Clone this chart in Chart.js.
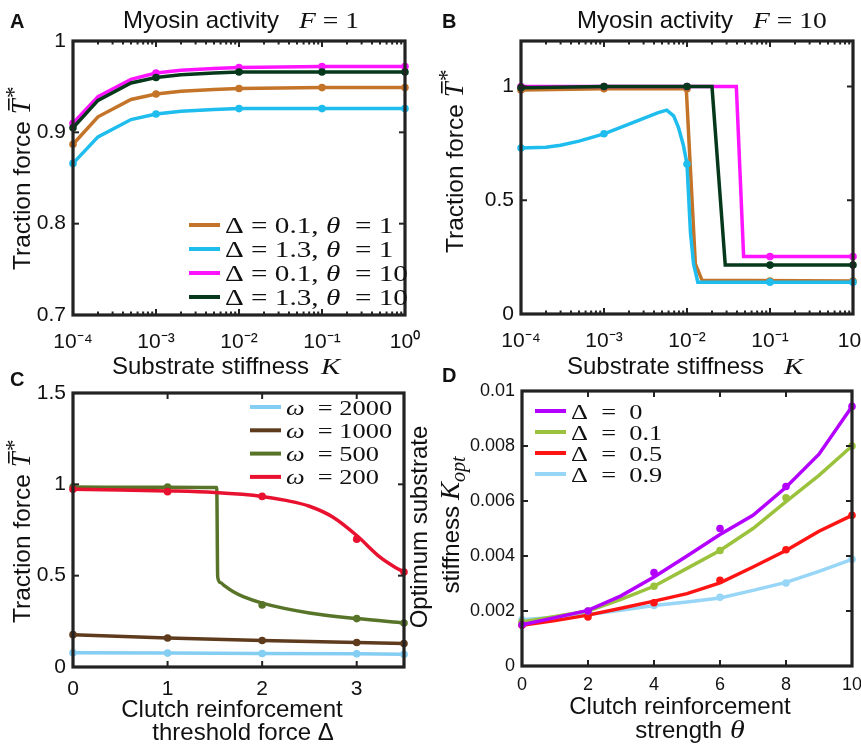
<!DOCTYPE html>
<html>
<head>
<meta charset="utf-8">
<script src="https://cdn.jsdelivr.net/npm/chart.js@4.4.0/dist/chart.umd.min.js"></script>
<style>
  html, body { margin: 0; padding: 0; background: #fff; }
  #fig { position: relative; width: 861px; height: 745px; overflow: hidden; }
  canvas { position: absolute; }
</style>
</head>
<body>
<div id="fig">
  <canvas id="cA" width="430" height="380" style="left:0;top:0"></canvas>
  <canvas id="cB" width="431" height="380" style="left:430px;top:0"></canvas>
  <canvas id="cC" width="430" height="373" style="left:0;top:372px"></canvas>
  <canvas id="cD" width="461" height="390" style="left:400px;top:355px"></canvas>
</div>
<script>
const SANS = 'Liberation Sans', SERIF = 'Liberation Serif';

// ---- panel A : F = 1
const kA = [1e-4, 2e-4, 5e-4, 1e-3, 2e-3, 5e-3, 1e-2, 1e-1, 1];
const aBrown   = [0.887, 0.917, 0.936, 0.942, 0.945, 0.947, 0.948, 0.949, 0.949];
const aCyan    = [0.866, 0.895, 0.914, 0.920, 0.923, 0.925, 0.926, 0.926, 0.926];
const aMagenta = [0.910, 0.939, 0.958, 0.965, 0.968, 0.970, 0.971, 0.972, 0.972];
const aGreen   = [0.905, 0.935, 0.954, 0.960, 0.963, 0.965, 0.966, 0.966, 0.966];
const kMark = [1e-4, 1e-3, 1e-2, 1e-1, 1];
const aBrownMark   = [0.887, 0.942, 0.948, 0.949, 0.949];
const aCyanMark    = [0.866, 0.920, 0.926, 0.926, 0.926];
const aMagentaMark = [0.910, 0.965, 0.971, 0.972, 0.972];
const aGreenMark   = [0.905, 0.960, 0.966, 0.966, 0.966];
const legendA = ['Δ = 0.1, θ  = 1', 'Δ = 1.3, θ  = 1', 'Δ = 0.1, θ  = 10', 'Δ = 1.3, θ  = 10'];

// ---- panel B : F = 10
const kBBrown = [1e-4, 1e-3, 9.8e-3, 1.26e-2, 1.52e-2, 1];
const bBrown  = [0.985, 0.99, 0.99, 0.22, 0.148, 0.145];
const kBCyan  = [1e-4, 2e-4, 3e-4, 5e-4, 1e-3, 2e-3, 3e-3, 4.5e-3, 5.7e-3, 6.9e-3, 7.9e-3, 9e-3, 1e-2, 1.1e-2, 1.2e-2, 1.35e-2, 1];
const bCyan   = [0.730, 0.733, 0.742, 0.760, 0.792, 0.835, 0.860, 0.885, 0.896, 0.871, 0.819, 0.745, 0.659, 0.36, 0.22, 0.14, 0.14];
const kBMag   = [1e-4, 1e-3, 1e-2, 0.0393, 0.0481, 0.1, 1];
const bMagenta = [1, 1, 1, 1, 0.253, 0.253, 0.253];
const kBGreen = [1e-4, 1e-3, 1e-2, 0.02, 0.0289, 0.1, 1];
const bGreen  = [0.995, 1, 1, 1, 0.215, 0.215, 0.215];
const bBrownMark   = [0.985, 0.99, 0.99, 0.145, 0.145];
const bCyanMark    = [0.730, 0.792, 0.659, 0.14, 0.14];
const bMagentaMark = [1, 1, 1, 0.253, 0.253];
const bGreenMark   = [0.995, 1, 1, 0.215, 0.215];

// ---- panel C : traction vs threshold force
const dC = [0, 1, 2, 3, 3.5];
const cBlue  = [0.078, 0.076, 0.074, 0.072, 0.070];
const cBrown = [0.177, 0.159, 0.145, 0.134, 0.128];
const dCGreen = [0, 1, 1.52, 1.53, 1.56, 1.6, 1.7, 1.8, 2, 2.5, 3, 3.5];
const cGreen  = [0.985, 0.984, 0.982, 0.493, 0.462, 0.445, 0.41, 0.385, 0.35, 0.296, 0.265, 0.241];
const dCRed = [0, 0.5, 1, 1.5, 2, 2.25, 2.5, 2.75, 3, 3.25, 3.4, 3.5];
const cRed  = [0.973, 0.969, 0.964, 0.955, 0.934, 0.912, 0.880, 0.82, 0.72, 0.60, 0.548, 0.52];
const cBlueMark  = [0.078, 0.076, 0.074, 0.072, 0.070];
const cBrownMark = [0.177, 0.159, 0.145, 0.134, 0.128];
const cGreenMark = [0.985, 0.985, 0.34, 0.265, 0.241];
const cRedMark   = [0.973, 0.96, 0.934, 0.70, 0.52];
const legendC = ['ω  = 2000', 'ω  = 1000', 'ω  = 500', 'ω  = 200'];

// ---- panel D : optimum stiffness vs reinforcement strength
const thD = [0, 1, 2, 3, 4, 5, 6, 7, 8, 9, 10];
const dPurple = [1.50, 1.76, 2.02, 2.55, 3.24, 4.00, 4.78, 5.48, 6.50, 7.70, 9.44].map(v => v / 1000);
const dGreen  = [1.60, 1.80, 2.00, 2.42, 2.90, 3.55, 4.20, 5.00, 5.98, 6.93, 8.00].map(v => v / 1000);
const dRed    = [1.48, 1.65, 1.85, 2.10, 2.36, 2.63, 3.02, 3.60, 4.20, 4.90, 5.48].map(v => v / 1000);
const dBlue   = [1.68, 1.77, 1.87, 2.03, 2.20, 2.33, 2.47, 2.75, 3.04, 3.44, 3.88].map(v => v / 1000);
const thMark = [0, 2, 4, 6, 8, 10];
const dPurpleMark = [1.50, 2.00, 3.40, 5.00, 6.53, 9.44].map(v => v / 1000);
const dGreenMark  = [1.60, 2.00, 2.90, 4.20, 6.12, 8.00].map(v => v / 1000);
const dRedMark    = [1.48, 1.78, 2.30, 3.12, 4.23, 5.48].map(v => v / 1000);
const dBlueMark   = [1.68, 1.87, 2.20, 2.50, 3.02, 3.88].map(v => v / 1000);
const legendD = ['Δ  =  0', 'Δ  =  0.1', 'Δ  =  0.5', 'Δ  =  0.9'];

// tick values and labels
const kTicks = [1e-4, 1e-3, 1e-2, 1e-1, 1];
const kTickLabels = ['10⁻⁴', '10⁻³', '10⁻²', '10⁻¹', '10⁰'];
const aYTicks = [0.7, 0.8, 0.9, 1], aYLabels = ['0.7', '0.8', '0.9', '1'];
const bYTicks = [0, 0.5, 1], bYLabels = ['0', '0.5', '1'];
const cXTicks = [0, 1, 2, 3], cXLabels = ['0', '1', '2', '3'];
const cYTicks = [0, 0.5, 1, 1.5], cYLabels = ['0', '0.5', '1', '1.5'];
const dXTicks = [0, 2, 4, 6, 8, 10], dXLabels = ['0', '2', '4', '6', '8', '10'];
const dYTicks = [0, 0.002, 0.004, 0.006, 0.008, 0.01], dYLabels = ['0', '0.002', '0.004', '0.006', '0.008', '0.01'];

// ---- text helpers
const sans = (t, s = 24, extra) => Object.assign({ t, f: s + 'px "' + SANS + '"' }, extra);
const bold = (t) => ({ t, f: 'bold 20px "' + SANS + '"' });
const ser = (t, s = 23, it = false, extra) =>
  Object.assign({ t, f: (it ? 'italic ' : '') + s + 'px "' + SERIF + '"', sx: 1.2 }, extra);

function mathParts(str, size, sx) {
  const parts = [];
  let cur = '', curIt = null;
  for (const ch of str) {
    const it = /[θωFK]/.test(ch);
    if (curIt !== null && it !== curIt) { parts.push(ser(cur, size, curIt, { sx })); cur = ''; }
    cur += ch; curIt = it;
  }
  parts.push(ser(cur, size, curIt, { sx }));
  return parts;
}

function drawParts(ctx, parts, x, y, rot, align) {
  ctx.save();
  ctx.translate(x, y);
  if (rot) ctx.rotate(-Math.PI / 2);
  let total = 0;
  parts.forEach(p => {
    ctx.font = p.f;
    p.w = ctx.measureText(p.t).width * (p.sx || 1);
    total += p.w + (p.gap || 0);
  });
  let cx = align === 'center' ? -total / 2 : 0;
  ctx.fillStyle = '#111';
  ctx.textBaseline = 'alphabetic';
  parts.forEach(p => {
    cx += p.gap || 0;
    ctx.save();
    ctx.translate(cx, p.dy || 0);
    if (p.bar) ctx.fillRect(p.w * 0.25, -p.bar, p.w * 0.8, 1.6);
    ctx.scale(p.sx || 1, 1);
    ctx.font = p.f;
    ctx.fillText(p.t, 0, 0);
    ctx.restore();
    cx += p.w;
  });
  ctx.restore();
}

// ---- plugin: frame, inward ticks, texts, inset legend
const decoCfg = {};
const deco = {
  id: 'deco',
  afterDatasetsDraw(chart) {
    const { ctx, chartArea: a, scales: { x, y } } = chart;
    const line = (x1, y1, x2, y2) => { ctx.beginPath(); ctx.moveTo(x1, y1); ctx.lineTo(x2, y2); ctx.stroke(); };
    ctx.save();
    ctx.strokeStyle = '#222';
    ctx.lineWidth = 2;
    x.ticks.forEach((t, i) => {
      const px = x.getPixelForValue(t.value);
      line(px, a.bottom, px, a.bottom - 6);
      line(px, a.top, px, a.top + 6);
      if (x.type === 'logarithmic' && i < x.ticks.length - 1) {
        for (let m = 2; m <= 9; m++) {
          const pm = x.getPixelForValue(t.value * m);
          line(pm, a.bottom, pm, a.bottom - 3.5);
          line(pm, a.top, pm, a.top + 3.5);
        }
      }
    });
    y.ticks.forEach(t => {
      const py = y.getPixelForValue(t.value);
      line(a.left, py, a.left + 6, py);
      line(a.right, py, a.right - 6, py);
    });
    ctx.lineWidth = 3.2;
    ctx.strokeRect(a.left, a.top, a.right - a.left, a.bottom - a.top);
    ctx.restore();
  },
  afterDraw(chart) {
    const cfg = decoCfg[chart.canvas.id];
    const ctx = chart.ctx;
    const [ox, oy] = cfg.off;
    cfg.texts.forEach(tx => drawParts(ctx, tx.parts, tx.x - ox, tx.y - oy, tx.rot, tx.align));
    const lg = cfg.legend;
    if (lg) {
      lg.labels.forEach((lab, i) => {
        const yy = lg.y + i * lg.dy - oy;
        ctx.save();
        ctx.strokeStyle = lg.colors[i];
        ctx.lineWidth = 4;
        ctx.beginPath();
        ctx.moveTo(lg.x - ox, yy);
        ctx.lineTo(lg.x + 31 - ox, yy);
        ctx.stroke();
        ctx.restore();
        drawParts(ctx, mathParts(lab, lg.size, lg.sx), lg.x + 36 - ox, yy + 7.5);
      });
    }
  }
};

// ---- dataset builders
const pts = (xs, ys) => xs.map((v, i) => ({ x: v, y: ys[i] }));
function lineSet(xs, ys, color, order, extra) {
  return Object.assign({
    data: pts(xs, ys), showLine: true, borderColor: color, backgroundColor: color,
    borderWidth: 3.5, pointRadius: 0, pointHoverRadius: 0, tension: 0, order, clip: 8
  }, extra || {});
}
function markSet(xs, ys, color, order) {
  return {
    data: pts(xs, ys), showLine: false, borderColor: color, backgroundColor: color,
    borderWidth: 0, pointRadius: 3.8, pointHoverRadius: 3.8, order, clip: 8
  };
}

function axis(ax, isX, W, H, box) {
  const o = {
    type: ax.type || 'linear', min: ax.min, max: ax.max,
    grid: { display: false, drawTicks: false }, border: { display: false },
    ticks: {
      font: { family: SANS, size: ax.fs }, color: '#111', padding: ax.pad,
      autoSkip: false, maxRotation: 0, callback: (v, i) => ax.labels[i]
    },
    afterBuildTicks: s => { s.ticks = ax.ticks.map(v => ({ value: v })); }
  };
  o.afterFit = isX
    ? s => { s.height = H - box.b; s.paddingLeft = 0; s.paddingRight = 0; }
    : s => { s.width = box.l; s.paddingTop = 0; s.paddingBottom = 0; };
  return o;
}

function panel(id, box, xAx, yAx, datasets, cfg) {
  const cv = document.getElementById(id);
  const W = cv.width, H = cv.height;
  decoCfg[id] = cfg;
  new Chart(cv, {
    type: 'scatter',
    data: { datasets },
    options: {
      responsive: false, animation: false, events: [],
      layout: { padding: { left: 0, top: box.t, right: W - box.r, bottom: 0 } },
      plugins: { legend: { display: false }, tooltip: { enabled: false } },
      scales: { x: axis(xAx, true, W, H, box), y: axis(yAx, false, W, H, box) }
    },
    plugins: [deco]
  });
}

const tForce = (x, y) => ({
  x, y, rot: true,
  parts: [sans('Traction force', 24.5), ser('T', 27, true, { sx: 1, gap: 7, bar: 22 }), ser('*', 23, false, { sx: 1, gap: 1, dy: -9 })]
});

// ---- panel A
const colA = ['#c47428', '#1ebdee', '#ff14ff', '#06391c'];
panel('cA', { l: 73, t: 41, r: 405, b: 315 },
  { type: 'logarithmic', min: 1e-4, max: 1, ticks: kTicks, labels: kTickLabels, pad: 15, fs: 21 },
  { min: 0.7, max: 1, ticks: aYTicks, labels: aYLabels, pad: 7, fs: 21 },
  [
    lineSet(kA, aBrown, colA[0], 3), lineSet(kA, aCyan, colA[1], 2),
    lineSet(kA, aMagenta, colA[2], 1), lineSet(kA, aGreen, colA[3], 0),
    markSet(kMark, aBrownMark, colA[0], 3), markSet(kMark, aCyanMark, colA[1], 2),
    markSet(kMark, aMagentaMark, colA[2], 1), markSet(kMark, aGreenMark, colA[3], 0)
  ],
  {
    off: [0, 0],
    texts: [
      { x: 10, y: 28, parts: [bold('A')] },
      { x: 123, y: 28, parts: [sans('Myosin activity', 24), ser('F', 23, true, { gap: 20 }), ser(' = 1', 23)] },
      tForce(30, 270),
      { x: 112, y: 374, parts: [sans('Substrate stiffness', 24), ser('K', 24, true, { gap: 12 })] }
    ],
    legend: { x: 189, y: 225, dy: 24, size: 23, sx: 1.27, labels: legendA, colors: colA }
  });

// ---- panel B
panel('cB', { l: 91, t: 41, r: 423, b: 314 },
  { type: 'logarithmic', min: 1e-4, max: 1, ticks: kTicks, labels: kTickLabels, pad: 15, fs: 21 },
  { min: 0, max: 1.2, ticks: bYTicks, labels: bYLabels, pad: 7, fs: 21 },
  [
    lineSet(kBBrown, bBrown, colA[0], 3), lineSet(kBCyan, bCyan, colA[1], 1),
    lineSet(kBMag, bMagenta, colA[2], 2), lineSet(kBGreen, bGreen, colA[3], 0),
    markSet(kMark, bBrownMark, colA[0], 3), markSet(kMark, bCyanMark, colA[1], 1),
    markSet(kMark, bMagentaMark, colA[2], 2), markSet(kMark, bGreenMark, colA[3], 0)
  ],
  {
    off: [430, 0],
    texts: [
      { x: 442, y: 28, parts: [bold('B')] },
      { x: 577, y: 28, parts: [sans('Myosin activity', 24), ser('F', 23, true, { gap: 20 }), ser(' = 10', 23)] },
      tForce(463, 253),
      { x: 567, y: 374, parts: [sans('Substrate stiffness', 24), ser('K', 24, true, { gap: 20 })] }
    ]
  });

// ---- panel C
const colC = ['#84cdf3', '#5e3b1d', '#587429', '#e8112f'];
panel('cC', { l: 73, t: 21, r: 404, b: 295 },
  { min: 0, max: 3.5, ticks: cXTicks, labels: cXLabels, pad: 10, fs: 21 },
  { min: 0, max: 1.5, ticks: cYTicks, labels: cYLabels, pad: 7, fs: 21 },
  [
    lineSet(dC, cBlue, colC[0], 3), lineSet(dC, cBrown, colC[1], 2),
    lineSet(dCGreen, cGreen, colC[2], 1, { cubicInterpolationMode: 'monotone' }),
    lineSet(dCRed, cRed, colC[3], 0, { cubicInterpolationMode: 'monotone' }),
    markSet(dC, cBlueMark, colC[0], 3), markSet(dC, cBrownMark, colC[1], 2),
    markSet(dC, cGreenMark, colC[2], 1), markSet(dC, cRedMark, colC[3], 0)
  ],
  {
    off: [0, 372],
    texts: [
      { x: 10, y: 386, parts: [bold('C')] },
      tForce(30, 623),
      { x: 232, y: 717, align: 'center', parts: [sans('Clutch reinforcement', 24)] },
      { x: 243, y: 740, align: 'center', parts: [sans('threshold force Δ', 24)] }
    ],
    legend: { x: 250, y: 407, dy: 23.3, size: 22, sx: 1.2, labels: legendC, colors: colC }
  });

// ---- panel D
const colD = ['#b300ff', '#9bc23c', '#ff1414', '#98d6f7'];
panel('cD', { l: 122, t: 36, r: 452, b: 311 },
  { min: 0, max: 10, ticks: dXTicks, labels: dXLabels, pad: 8, fs: 18 },
  { min: 0, max: 0.01, ticks: dYTicks, labels: dYLabels, pad: 7, fs: 18 },
  [
    lineSet(thD, dPurple, colD[0], 0), lineSet(thD, dGreen, colD[1], 1),
    lineSet(thD, dRed, colD[2], 2), lineSet(thD, dBlue, colD[3], 3),
    markSet(thMark, dPurpleMark, colD[0], 0), markSet(thMark, dGreenMark, colD[1], 1),
    markSet(thMark, dRedMark, colD[2], 2), markSet(thMark, dBlueMark, colD[3], 3)
  ],
  {
    off: [400, 355],
    texts: [
      { x: 442, y: 382, parts: [bold('D')] },
      { x: 427, y: 527, rot: true, align: 'center', parts: [sans('Optimum substrate', 24)] },
      { x: 459, y: 525, rot: true, align: 'center',
        parts: [sans('stiffness', 24), ser('K', 27, true, { sx: 1, gap: 6 }), ser('opt', 20, true, { sx: 1, dy: 6 })] },
      { x: 680, y: 714, align: 'center', parts: [sans('Clutch reinforcement', 24)] },
      { x: 690, y: 738, align: 'center', parts: [sans('strength', 24), ser('θ', 25, true, { gap: 8 })] }
    ],
    legend: { x: 535, y: 411, dy: 21, size: 22, sx: 1.2, labels: legendD, colors: colD }
  });
</script>
</body>
</html>
